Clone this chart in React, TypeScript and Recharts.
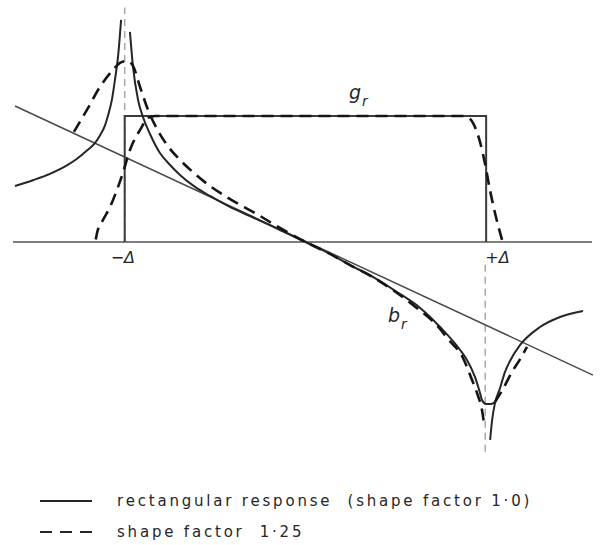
import React from "react";
import {
  ComposedChart,
  Line,
  XAxis,
  YAxis,
  ReferenceLine,
  ReferenceDot,
} from "recharts";

// x is measured in units of Δ, y in units of the height of g_r

// tangent through the centre of b_r
const tangentX = [-1.607, 1.591];
const tangentY = [1.079, -1.056];

// g_r, rectangular response
const rectX = [-1, -1, 1, 1];
const rectY = [0, 1, 1, 0];

// b_r, rectangular response (three branches split at ±Δ)
const solidLeftX = [
  -1.607, -1.508, -1.414, -1.32, -1.264, -1.209, -1.164, -1.137, -1.109, -1.093,
  -1.071, -1.054, -1.037, -1.02,
];
const solidLeftY = [
  0.444, 0.49, 0.54, 0.607, 0.66, 0.725, 0.786, 0.845, 0.925, 1.0, 1.127,
  1.286, 1.468, 1.762,
];

const solidMidX = [
  -0.971, -0.954, -0.926, -0.899, -0.860, -0.805, -0.749, -0.694, -0.611, -0.528,
  -0.418, -0.307, -0.141, 0, 0.136, 0.247, 0.385, 0.507, 0.635, 0.745, 0.856,
  0.894, 0.938, 0.966, 0.977, 0.999, 1.027, 1.049,
];
const solidMidY = [
  1.667, 1.389, 1.127, 0.992, 0.857, 0.706, 0.611, 0.532, 0.437, 0.365, 0.278,
  0.206, 0.095, 0, -0.095, -0.183, -0.286, -0.397, -0.524, -0.675, -0.857, -0.937,
  -1.071, -1.198, -1.254, -1.286, -1.286, -1.27,
];

const solidRightX = [1.022, 1.033, 1.049, 1.077, 1.104, 1.132, 1.188, 1.298, 1.409, 1.536];
const solidRightY = [-1.571, -1.413, -1.278, -1.159, -1.032, -0.944, -0.817, -0.675, -0.595, -0.548];

// shape factor 1.25
const dashBX = [
  -1.281, -1.209, -1.137, -1.065, -1.026, -0.987, -0.954, -0.915, -0.871, -0.821,
  -0.766, -0.694, -0.611, -0.528, -0.445, -0.362, -0.279, -0.141, 0, 0.136, 0.247,
  0.385, 0.507, 0.595, 0.745, 0.784, 0.872, 0.922, 0.955, 0.977, 0.988,
];
const dashBY = [
  0.873, 1.048, 1.23, 1.365, 1.421, 1.437, 1.397, 1.23, 1.048, 0.897, 0.770, 0.651,
  0.540, 0.444, 0.365, 0.294, 0.230, 0.111, 0, -0.095, -0.183, -0.29, -0.405,
  -0.5, -0.69, -0.762, -0.921, -1.095, -1.222, -1.333, -1.437,
];
const dashBRightX = [1.049, 1.093, 1.143, 1.188, 1.226];
const dashBRightY = [-1.27, -1.167, -1.032, -0.929, -0.833];

const dashGX = [
  -1.16, -1.153, -1.12, -1.081, -1.043, -1.01, -0.971, -0.915, -0.871, -0.832,
  0.872, 0.911, 0.938, 0.966, 0.993, 1.021, 1.049, 1.088,
];
const dashGY = [
  0.02, 0.071, 0.175, 0.278, 0.413, 0.548, 0.73, 0.889, 0.984, 1, 1, 0.976, 0.913,
  0.794, 0.627, 0.413, 0.23, 0.016,
];

const legendLabels = [
  "rectangular response  (shape factor 1·0)",
  "shape factor  1·25",
];

const toPoints = (xs: number[], ys: number[]) => xs.map((x, i) => ({ x, y: ys[i] }));

const FONT = "'DejaVu Sans', sans-serif";
const INK = "#262626";

const SubLabel = (props: any) => {
  const { viewBox, main, sub, size } = props;
  const x = viewBox?.x ?? 0;
  const y = viewBox?.y ?? 0;
  return (
    <text x={x} y={y} fill={INK} fontFamily={FONT} fontStyle="italic" fontSize={size}>
      {main}
      <tspan dx={1} dy={7} fontSize={size * 0.72}>
        {sub}
      </tspan>
    </text>
  );
};

const DeltaLabel = (props: any) => {
  const { viewBox, text, anchor } = props;
  return (
    <text
      x={viewBox?.x ?? 0}
      y={viewBox?.y ?? 0}
      fill={INK}
      fontFamily={FONT}
      fontStyle="italic"
      fontSize={16}
      textAnchor={anchor}
    >
      {text}
    </text>
  );
};

const App = () => {
  const solid = { stroke: INK, strokeWidth: 2, dot: false, activeDot: false, isAnimationActive: false };
  const dashed = { ...solid, stroke: "#151515", strokeWidth: 2.6, strokeDasharray: "12 7" };

  return (
    <div style={{ position: "absolute", left: 0, top: 0, width: 600, height: 545, background: "#fff", overflow: "hidden" }}>
      <ComposedChart width={600} height={460} margin={{ top: 0, right: 0, bottom: 0, left: 0 }}>
        <XAxis type="number" dataKey="x" domain={[-1.69, 1.63]} allowDataOverflow hide />
        <YAxis type="number" dataKey="y" domain={[-1.73, 1.92]} allowDataOverflow hide />

        <ReferenceLine
          segment={[{ x: -1.618, y: 0 }, { x: 1.586, y: 0 }]}
          stroke="#555"
          strokeWidth={1.5}
        />
        <ReferenceLine
          segment={[{ x: -1, y: 0 }, { x: -1, y: 1.86 }]}
          stroke="#a8a8a8"
          strokeWidth={1.5}
          strokeDasharray="7 5"
        />
        <ReferenceLine
          segment={[{ x: 0.995, y: -0.18 }, { x: 0.995, y: -1.69 }]}
          stroke="#a8a8a8"
          strokeWidth={1.5}
          strokeDasharray="7 5"
        />

        <Line data={toPoints(tangentX, tangentY)} dataKey="y" type="linear" {...solid} stroke="#4a4a4a" strokeWidth={1.5} />
        <Line data={toPoints(rectX, rectY)} dataKey="y" type="linear" {...solid} stroke="#3a3a3a" />

        <Line data={toPoints(solidLeftX, solidLeftY)} dataKey="y" type="monotone" {...solid} />
        <Line data={toPoints(solidMidX, solidMidY)} dataKey="y" type="monotone" {...solid} />
        <Line data={toPoints(solidRightX, solidRightY)} dataKey="y" type="monotone" {...solid} />

        <Line data={toPoints(dashGX, dashGY)} dataKey="y" type="monotone" {...dashed} />
        <Line data={toPoints(dashBX, dashBY)} dataKey="y" type="monotone" {...dashed} />
        <Line data={toPoints(dashBRightX, dashBRightY)} dataKey="y" type="monotone" {...dashed} />

        <ReferenceDot x={0.241} y={1.135} r={0} stroke="none" fill="none"
          label={(p: any) => <SubLabel {...p} main="g" sub="r" size={19} />} />
        <ReferenceDot x={0.457} y={-0.635} r={0} stroke="none" fill="none"
          label={(p: any) => <SubLabel {...p} main="b" sub="r" size={19} />} />
        <ReferenceDot x={-1.01} y={-0.167} r={0} stroke="none" fill="none"
          label={(p: any) => <DeltaLabel {...p} text="−Δ" anchor="middle" />} />
        <ReferenceDot x={0.995} y={-0.167} r={0} stroke="none" fill="none"
          label={(p: any) => <DeltaLabel {...p} text="+Δ" anchor="start" />} />
      </ComposedChart>

      <div style={{ position: "absolute", left: 0, top: 485, width: 600, fontFamily: FONT, color: INK }}>
        {legendLabels.map((label, i) => (
          <div key={label} style={{ display: "flex", alignItems: "center", height: 31 }}>
            <svg width={117} height={10} style={{ flex: "none" }}>
              <line
                x1={40}
                x2={92}
                y1={5}
                y2={5}
                stroke={INK}
                strokeWidth={2.2}
                strokeDasharray={i === 0 ? undefined : "12 8"}
              />
            </svg>
            <span style={{ fontSize: 15, lineHeight: "20px", letterSpacing: 2.8, whiteSpace: "pre" }}>{label}</span>
          </div>
        ))}
      </div>
    </div>
  );
};

export default App;
